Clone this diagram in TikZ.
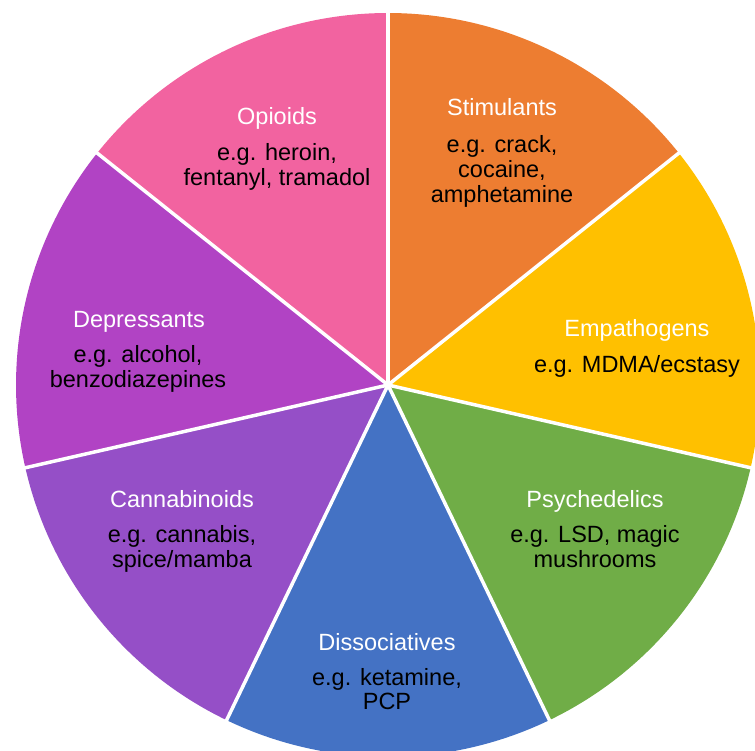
\documentclass[tikz,border=0pt]{standalone}
\usepackage{fontspec}
\setmainfont{Liberation Sans}
\usetikzlibrary{calc}
\definecolor{stimOrange}{HTML}{ED7D31}
\definecolor{empYellow}{HTML}{FFC000}
\definecolor{psyGreen}{HTML}{70AD47}
\definecolor{dissBlue}{HTML}{4472C4}
\definecolor{cannPurple}{HTML}{954FC7}
\definecolor{depPurple}{HTML}{B143C4}
\definecolor{opiPink}{HTML}{F263A0}
\begin{document}
\begin{tikzpicture}[x=1pt,y=-1pt,
  labelfont/.style={font=\fontsize{23.5}{23.5}\selectfont},
  classtitle/.style={labelfont, text=white, inner sep=0pt, anchor=base},
  examples/.style={labelfont, text=black, inner sep=0pt, anchor=north, align=center},
  divider/.style={white, line width=3.5pt}]
\useasboundingbox (0,0) rectangle (755,751);
\clip (0,0) rectangle (755,751);
\coordinate (c) at (388,385);
\def\R{372}
% wedges, clockwise from the top
\foreach \col [count=\k from 0] in {stimOrange,empYellow,psyGreen,dissBlue,cannPurple,depPurple,opiPink}{
  \pgfmathsetmacro\aa{-90+51.428571*\k}
  \pgfmathsetmacro\ab{-90+51.428571*(\k+1)}
  \fill[\col] (c) -- ++(\aa:\R) arc[start angle=\aa, end angle=\ab, radius=\R] -- cycle;
}
% white dividers between wedges
\foreach \k in {0,...,6}{
  \pgfmathsetmacro\aa{-90+51.428571*\k}
  \coordinate (edge\k) at ($(c)+(\aa:\R+5)$);
  \draw[divider] (c) -- (edge\k);
}
% labels
\node[classtitle] (stimT) at (502,116) {Stimulants};
\node[examples] (stimE) at (502,135.5) {e.g. crack,\strut\\cocaine,\strut\\amphetamine\strut};
\node[classtitle] (empT) at (637,337) {Empathogens};
\node[examples] (empE) at (637,355.5) {e.g. MDMA/ecstasy\strut};
\node[classtitle] (psyT) at (595,507) {Psychedelics};
\node[examples] (psyE) at (595,525.5) {e.g. LSD, magic\strut\\mushrooms\strut};
\node[classtitle] (dissT) at (387,650) {Dissociatives};
\node[examples] (dissE) at (387,668.5) {e.g. ketamine,\strut\\PCP\strut};
\node[classtitle] (cannT) at (182,507) {Cannabinoids};
\node[examples] (cannE) at (182,525.5) {e.g. cannabis,\strut\\spice/mamba\strut};
\node[classtitle] (depT) at (139,327) {Depressants};
\node[examples] (depE) at (138,345.5) {e.g. alcohol,\strut\\benzodiazepines\strut};
\node[classtitle] (opiT) at (277,125) {Opioids};
\node[examples] (opiE) at (277,143.5) {e.g. heroin,\strut\\fentanyl, tramadol\strut};
\end{tikzpicture}
\end{document}
